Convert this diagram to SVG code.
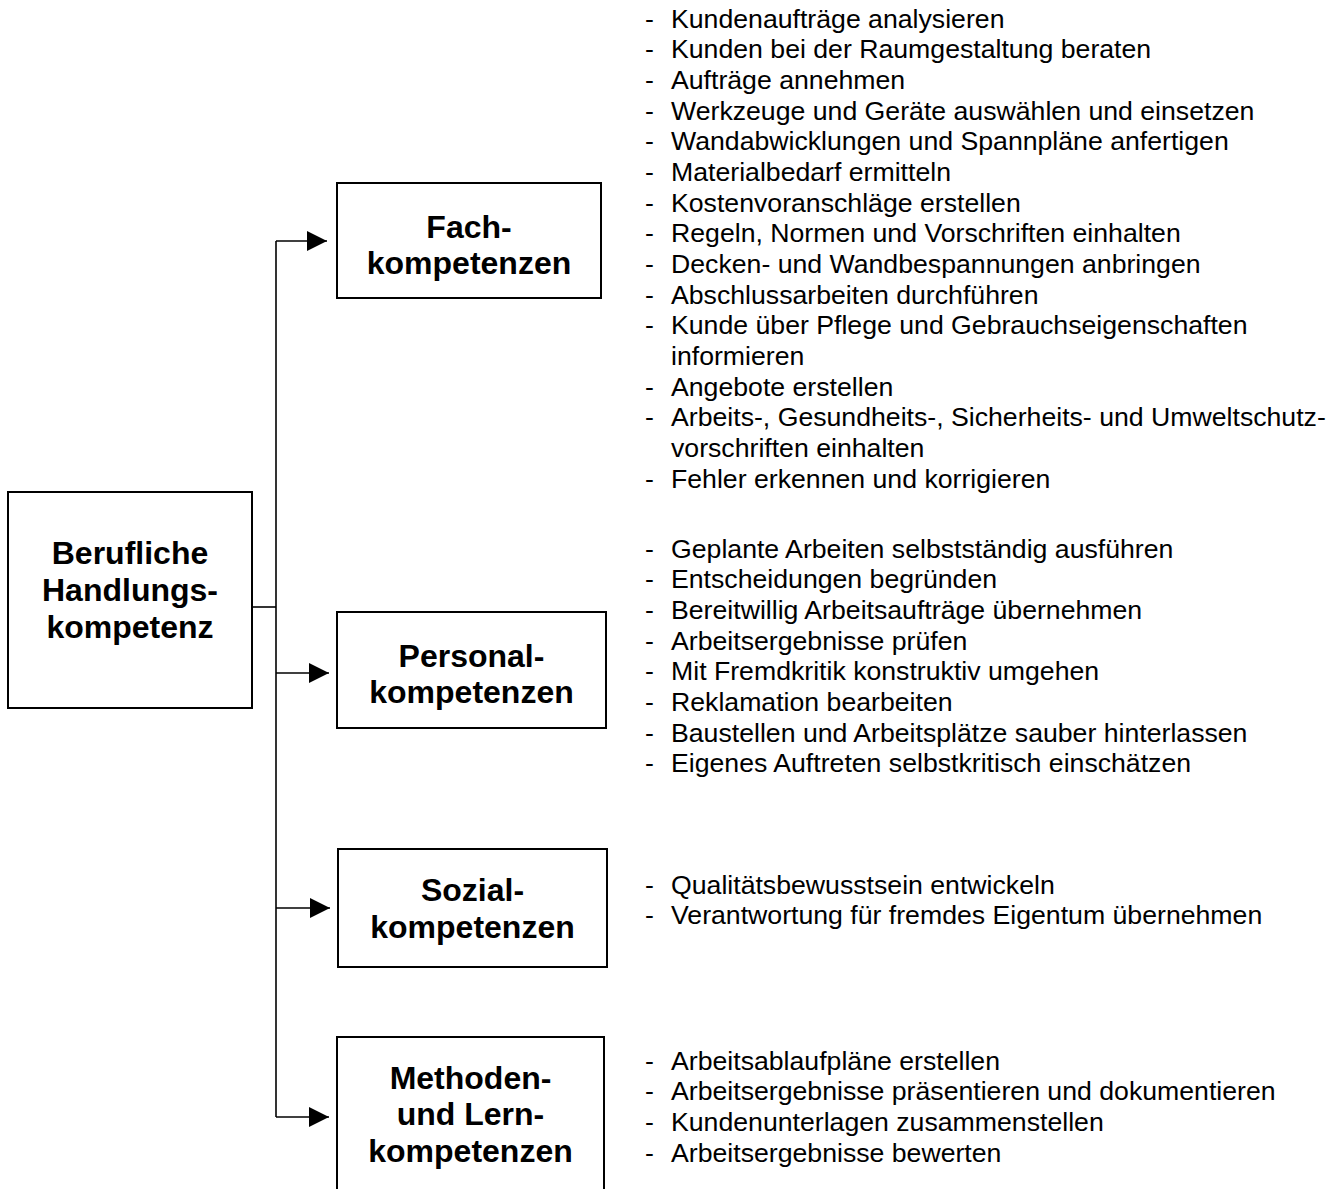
<svg xmlns="http://www.w3.org/2000/svg" width="1338" height="1189" viewBox="0 0 1338 1189">
  <style>
    .box { fill: #ffffff; stroke: #000000; stroke-width: 2; }
    .title { font-family: "Liberation Sans", Arial, sans-serif; font-size: 32px; font-weight: bold; fill: #000000; text-anchor: middle; }
    .item { font-family: "Liberation Sans", Arial, sans-serif; font-size: 26.67px; fill: #000000; }
    .wire { fill: none; stroke: #000000; stroke-width: 1.6; }
  </style>
  <defs>
    <marker id="arrow" markerWidth="20" markerHeight="20" refX="20" refY="10" orient="auto" markerUnits="userSpaceOnUse" viewBox="0 0 20 20">
      <path d="M0,0 L20,10 L0,20 Z" fill="#000000"/>
    </marker>
  </defs>
  <rect width="1338" height="1189" fill="#ffffff"/>

  <!-- connectors: trunk from the root box to the four competence boxes -->
  <g id="connectors">
    <path class="wire" d="M252,607 H276"/>
    <path class="wire" d="M276,241 V1117"/>
    <path class="wire" d="M276,241 H327" marker-end="url(#arrow)"/>
    <path class="wire" d="M276,673 H329" marker-end="url(#arrow)"/>
    <path class="wire" d="M276,908 H330" marker-end="url(#arrow)"/>
    <path class="wire" d="M276,1117 H329" marker-end="url(#arrow)"/>
  </g>

  <g id="node-root">
    <rect class="box" x="8" y="492" width="244" height="216"/>
    <text class="title" x="130" y="563.5">Berufliche</text>
    <text class="title" x="130" y="600.5">Handlungs-</text>
    <text class="title" x="130" y="637.5">kompetenz</text>
  </g>

  <g id="node-fach">
    <rect class="box" x="337" y="183" width="264" height="115"/>
    <text class="title" x="469" y="237.5">Fach-</text>
    <text class="title" x="469" y="274.3">kompetenzen</text>
  </g>

  <g id="node-personal">
    <rect class="box" x="337" y="612" width="269" height="116"/>
    <text class="title" x="471.5" y="666.5">Personal-</text>
    <text class="title" x="471.5" y="703.3">kompetenzen</text>
  </g>

  <g id="node-sozial">
    <rect class="box" x="338" y="849" width="269" height="118"/>
    <text class="title" x="472.5" y="901">Sozial-</text>
    <text class="title" x="472.5" y="937.8">kompetenzen</text>
  </g>

  <g id="node-methoden">
    <rect class="box" x="337" y="1037" width="267" height="160"/>
    <text class="title" x="470.5" y="1088.5">Methoden-</text>
    <text class="title" x="470.5" y="1125.3">und Lern-</text>
    <text class="title" x="470.5" y="1162.1">kompetenzen</text>
  </g>

  <!-- item lists -->
  <g id="list-fach" class="item">
    <text x="645" y="27.5">-</text><text x="671" y="27.5">Kundenaufträge analysieren</text>
    <text x="645" y="58.2">-</text><text x="671" y="58.2">Kunden bei der Raumgestaltung beraten</text>
    <text x="645" y="88.8">-</text><text x="671" y="88.8">Aufträge annehmen</text>
    <text x="645" y="119.5">-</text><text x="671" y="119.5">Werkzeuge und Geräte auswählen und einsetzen</text>
    <text x="645" y="150.2">-</text><text x="671" y="150.2">Wandabwicklungen und Spannpläne anfertigen</text>
    <text x="645" y="180.8">-</text><text x="671" y="180.8">Materialbedarf ermitteln</text>
    <text x="645" y="211.5">-</text><text x="671" y="211.5">Kostenvoranschläge erstellen</text>
    <text x="645" y="242.2">-</text><text x="671" y="242.2">Regeln, Normen und Vorschriften einhalten</text>
    <text x="645" y="272.9">-</text><text x="671" y="272.9">Decken- und Wandbespannungen anbringen</text>
    <text x="645" y="303.5">-</text><text x="671" y="303.5">Abschlussarbeiten durchführen</text>
    <text x="645" y="334.2">-</text><text x="671" y="334.2">Kunde über Pflege und Gebrauchseigenschaften</text>
    <text x="671" y="364.9">informieren</text>
    <text x="645" y="395.5">-</text><text x="671" y="395.5">Angebote erstellen</text>
    <text x="645" y="426.2">-</text><text x="671" y="426.2">Arbeits-, Gesundheits-, Sicherheits- und Umweltschutz-</text>
    <text x="671" y="456.9">vorschriften einhalten</text>
    <text x="645" y="487.5">-</text><text x="671" y="487.5">Fehler erkennen und korrigieren</text>
  </g>

  <g id="list-personal" class="item">
    <text x="645" y="557.5">-</text><text x="671" y="557.5">Geplante Arbeiten selbstständig ausführen</text>
    <text x="645" y="588.2">-</text><text x="671" y="588.2">Entscheidungen begründen</text>
    <text x="645" y="618.8">-</text><text x="671" y="618.8">Bereitwillig Arbeitsaufträge übernehmen</text>
    <text x="645" y="649.5">-</text><text x="671" y="649.5">Arbeitsergebnisse prüfen</text>
    <text x="645" y="680.2">-</text><text x="671" y="680.2">Mit Fremdkritik konstruktiv umgehen</text>
    <text x="645" y="710.8">-</text><text x="671" y="710.8">Reklamation bearbeiten</text>
    <text x="645" y="741.5">-</text><text x="671" y="741.5">Baustellen und Arbeitsplätze sauber hinterlassen</text>
    <text x="645" y="772.2">-</text><text x="671" y="772.2">Eigenes Auftreten selbstkritisch einschätzen</text>
  </g>

  <g id="list-sozial" class="item">
    <text x="645" y="893.5">-</text><text x="671" y="893.5">Qualitätsbewusstsein entwickeln</text>
    <text x="645" y="924.2">-</text><text x="671" y="924.2">Verantwortung für fremdes Eigentum übernehmen</text>
  </g>

  <g id="list-methoden" class="item">
    <text x="645" y="1069.5">-</text><text x="671" y="1069.5">Arbeitsablaufpläne erstellen</text>
    <text x="645" y="1100.2">-</text><text x="671" y="1100.2">Arbeitsergebnisse präsentieren und dokumentieren</text>
    <text x="645" y="1130.8">-</text><text x="671" y="1130.8">Kundenunterlagen zusammenstellen</text>
    <text x="645" y="1161.5">-</text><text x="671" y="1161.5">Arbeitsergebnisse bewerten</text>
  </g>
</svg>
